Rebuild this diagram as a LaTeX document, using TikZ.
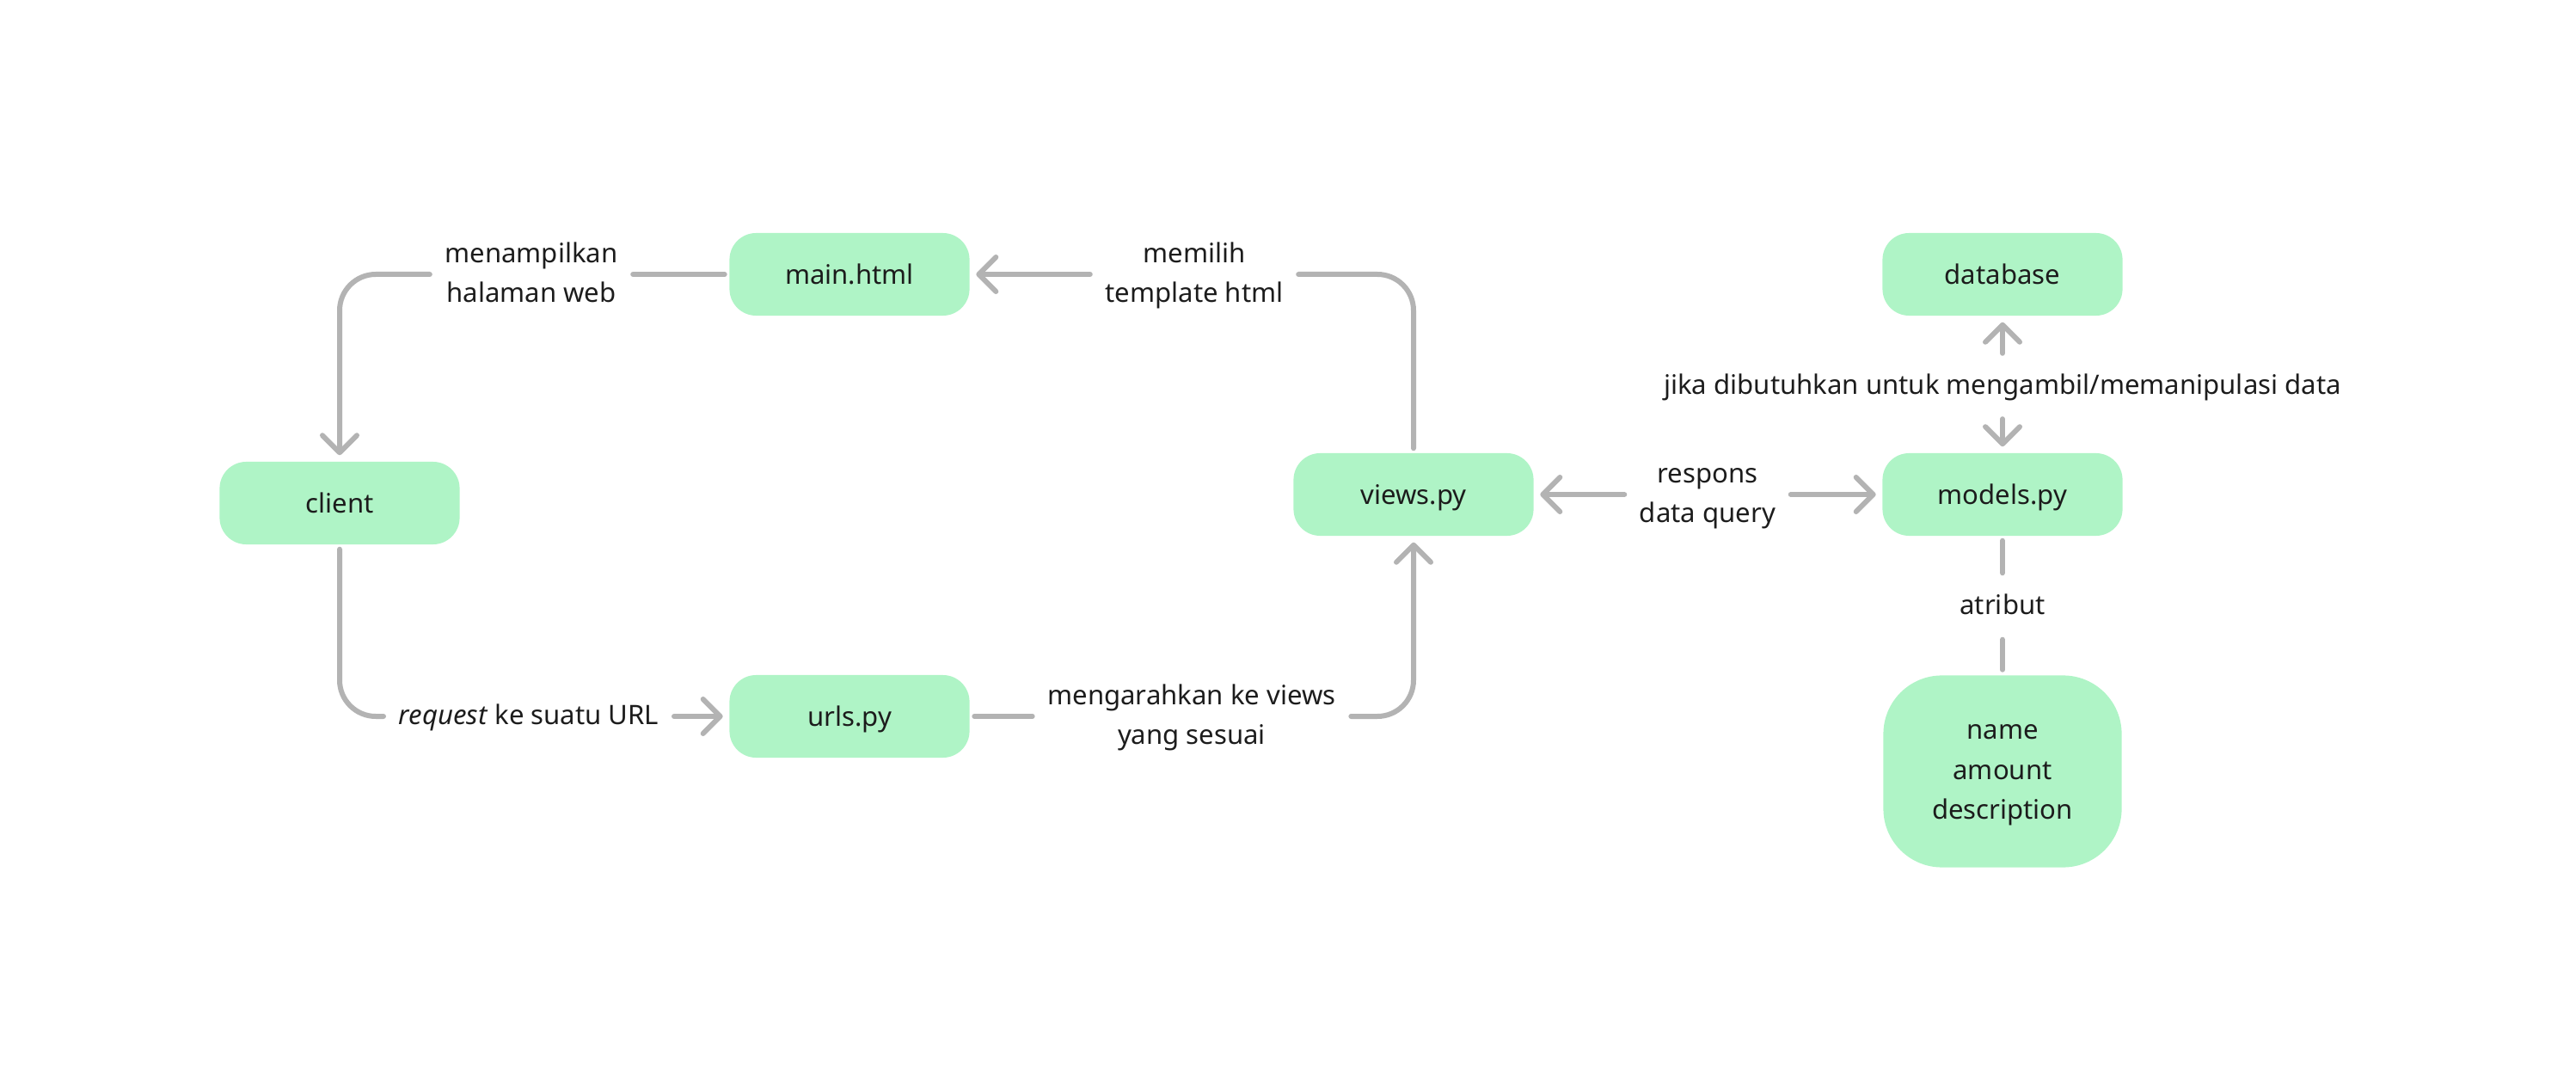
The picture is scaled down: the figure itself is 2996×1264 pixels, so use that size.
\documentclass[tikz,border=0pt]{standalone}
\usepackage{fontspec}
\setmainfont{Noto Sans}
\usetikzlibrary{arrows.meta}
\definecolor{nodegreen}{HTML}{AFF4C6}
\definecolor{linegray}{HTML}{B3B3B3}
\definecolor{txt}{HTML}{1C1C1C}
\newcommand\mlines[1]{\begin{tabular}{@{}c@{}}#1\end{tabular}}
\begin{document}
\begin{tikzpicture}[x=0.01cm,y=-0.01cm,
  lblfont/.style={font=\fontsize{8.85}{13.2}\selectfont},
  box/.style={fill=nodegreen, rounded corners=0.31cm, minimum width=2.79cm,
    minimum height=0.96cm, inner sep=0pt, text=txt, lblfont,
    text height=10.3pt, text depth=3.5pt},
  bigbox/.style={fill=nodegreen, rounded corners=0.68cm, minimum width=2.77cm,
    minimum height=2.23cm, inner sep=0pt, text=txt, lblfont},
  lbl/.style={text=txt, lblfont, inner xsep=0.17cm, inner ysep=0pt},
  vlbl/.style={text=txt, lblfont, inner xsep=0pt, inner ysep=0pt,
    text height=9.56pt, text depth=4.1pt},
  conn/.style={draw=linegray, line width=0.06cm, line cap=round, line join=round, rounded corners=0.42cm},
  arr/.style={-{Straight Barb[length=0.2cm, width=0.4cm, round]}, shorten >=0.07cm},
  gapstart/.style={shorten <=0.05cm}
]
\useasboundingbox (0,0) rectangle (2996,1264);

% nodes
\node[box] (client) at (395,585) {client};
\node[box] (main) at (988,319) {main.html};
\node[box] (urls) at (988,833) {urls.py};
\node[box] (views) at (1644,575) {views.py};
\node[box] (db) at (2329,319) {database};
\node[box] (models) at (2329,575) {models.py};
\node[bigbox] (attr) at (2329,897) {\mlines{name\\amount\\description}};

% labels
\node[lbl] (l1) at (618,319) {\mlines{menampilkan\\halaman web}};
\node[lbl, text height=9.56pt, text depth=4.1pt] (l2) at (615,833) {\textit{request} ke suatu URL};
\node[lbl] (l3) at (1386,833) {\mlines{mengarahkan ke views\\yang sesuai}};
\node[lbl] (l4) at (1389,319) {\mlines{memilih\\template html}};
\node[lbl] (l5) at (1986,575) {\mlines{respons\\data query}};
\node[vlbl, minimum height=0.75cm] (l6) at (2329,449) {jika dibutuhkan untuk mengambil/memanipulasi data};
\node[vlbl, minimum height=0.76cm] (l7) at (2329,705) {atribut};

% connectors
\draw[conn, gapstart] (main.west) -- (l1.east);
\draw[conn, arr] (l1.west) -| (client.north);

\draw[conn, gapstart] (client.south) |- (l2.west);
\draw[conn, arr] (l2.east) -- (urls.west);

\draw[conn, gapstart] (urls.east) -- (l3.west);
\draw[conn, arr] (l3.east) -| (views.south);

\draw[conn, gapstart] (views.north) |- (l4.east);
\draw[conn, arr] (l4.west) -- (main.east);

\draw[conn, arr] (l5.west) -- (views.east);
\draw[conn, arr] (l5.east) -- (models.west);

\draw[conn, arr] (l6.north) -- (db.south);
\draw[conn, arr] (l6.south) -- (models.north);

\draw[conn, gapstart] (models.south) -- (l7.north);
\draw[conn, shorten >=0.06cm] (l7.south) -- (attr.north);
\end{tikzpicture}
\end{document}
